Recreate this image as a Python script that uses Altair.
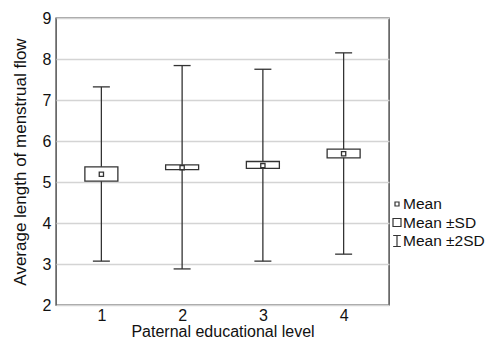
import altair as alt
import pandas as pd

# Data
categories = [1, 2, 3, 4]
means = [5.19, 5.35, 5.40, 5.69]
sd_low = [5.02, 5.30, 5.33, 5.59]
sd_high = [5.37, 5.42, 5.50, 5.80]
sd2_low = [3.07, 2.88, 3.07, 3.24]
sd2_high = [7.32, 7.84, 7.75, 8.15]
legend_labels = ["Mean", "Mean \u00b1SD", "Mean \u00b12SD"]
y_ticks = [2, 3, 4, 5, 6, 7, 8, 9]

df = pd.DataFrame({
    "cat": categories,
    "mean": means,
    "sd_low": sd_low,
    "sd_high": sd_high,
    "sd2_low": sd2_low,
    "sd2_high": sd2_high,
})

FONT = "Liberation Sans"
INK = "#333333"

x_enc = alt.X("cat:Q", scale=alt.Scale(domain=[0.5, 4.5], nice=False, zero=False),
              axis=alt.Axis(values=categories, title="Paternal educational level",
                            grid=False, tickSize=0, domain=False, labelPadding=2,
                            titlePadding=0, titleFontSize=16, format="d"))
y_axis = alt.Axis(values=y_ticks, title="Average length of menstrual flow",
                  grid=True, gridColor="#d4d4d4", gridWidth=1.5, tickSize=0,
                  domain=False, labelPadding=5, titlePadding=13, format="d")
y_scale = alt.Scale(domain=[2, 9], nice=False, zero=False)

base = alt.Chart(df)

whisker = base.mark_rule(color=INK, strokeWidth=1.3).encode(
    x=x_enc,
    y=alt.Y("sd2_low:Q", scale=y_scale, axis=y_axis),
    y2="sd2_high:Q",
)
cap_low = base.mark_tick(orient="horizontal", size=17, thickness=1.3, color=INK, opacity=1).encode(
    x="cat:Q", y="sd2_low:Q")
cap_high = base.mark_tick(orient="horizontal", size=17, thickness=1.3, color=INK, opacity=1).encode(
    x="cat:Q", y="sd2_high:Q")
box = base.mark_bar(size=33, fill="white", stroke=INK, strokeWidth=1.3).encode(
    x="cat:Q", y="sd_low:Q", y2="sd_high:Q")
mean_pt = base.mark_point(shape="square", size=18, filled=False, fill="white",
                          fillOpacity=1, stroke=INK, strokeWidth=1.3, opacity=1).encode(
    x="cat:Q", y="mean:Q")

leg_df = pd.DataFrame({"label": legend_labels})
leg_x_sym = 341
leg_x_txt = 347
leg_ys = [186, 204.5, 223]

def leg_row(i, shape, size):
    d = alt.Chart(leg_df).transform_filter(alt.datum.label == legend_labels[i])
    sym = d.mark_point(shape=shape, size=size, filled=False, stroke=INK,
                       strokeWidth=1.2, opacity=1).encode(
        x=alt.value(leg_x_sym), y=alt.value(leg_ys[i]))
    txt = d.mark_text(align="left", baseline="middle", font=FONT, fontSize=15.5,
                      color="#111111").encode(
        x=alt.value(leg_x_txt), y=alt.value(leg_ys[i]), text="label:N")
    return sym + txt

leg = (leg_row(0, "square", 16)
       + leg_row(1, "square", 64)
       + leg_row(2, "M-0.7,-1H0.7M0,-1V1M-0.7,1H0.7", 120))

chart = alt.layer(whisker, cap_low, cap_high, box, mean_pt, leg).properties(
    width=333,
    height=287,
    background="white",
    autosize=alt.AutoSizeParams(type="none"),
    padding={"left": 48, "top": 10, "right": 101, "bottom": 36},
).configure_view(
    stroke="#444444", strokeWidth=1.4
).configure_axis(
    labelFont=FONT, titleFont=FONT, labelFontSize=16, titleFontSize=17,
    labelColor="#111111", titleColor="#111111", titleFontWeight="normal",
    tickColor=INK
)

chart.save("out.html", embed_options={"renderer": "svg", "actions": False})
